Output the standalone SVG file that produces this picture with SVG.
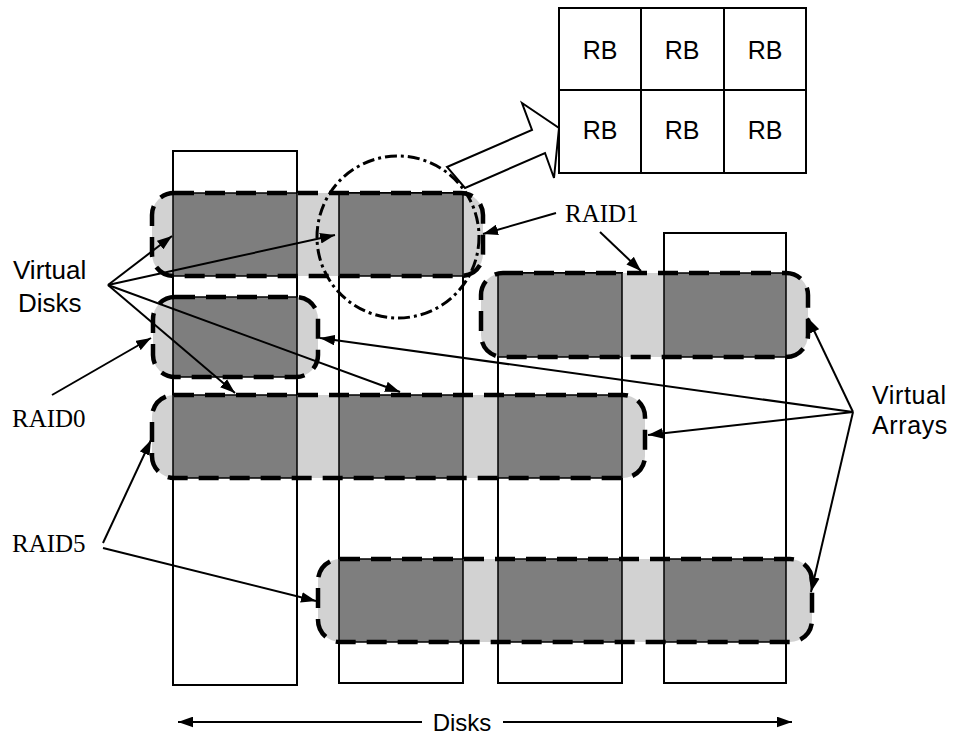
<svg xmlns="http://www.w3.org/2000/svg" width="955" height="735" viewBox="0 0 955 735">
<defs>
<style>
.disk{fill:#fff;stroke:#000;stroke-width:2}
.cap{fill:#d2d2d2}
.capline{fill:none;stroke:#000;stroke-width:4.5;stroke-dasharray:20 11}
.blk{fill:#7e7e7e;stroke:#000;stroke-width:1.5}
.conn{stroke:#000;stroke-width:2;fill:none;marker-end:url(#ah)}
.cell{fill:#fff;stroke:#000;stroke-width:2}
.sans{font-family:"Liberation Sans",Arial,sans-serif;fill:#000}
.serif{font-family:"Liberation Serif","Times New Roman",serif;fill:#000}
</style>
<marker id="ah" viewBox="0 0 14 10" refX="14" refY="5" markerWidth="15" markerHeight="11" markerUnits="userSpaceOnUse" orient="auto"><path d="M0,0 L14,5 L0,10 z" fill="#000"/></marker>
</defs>
<rect width="955" height="735" fill="#fff"/>

<g id="disks">
<rect id="disk1" class="disk" x="173" y="151" width="124" height="534"/>
<rect id="disk2" class="disk" x="339" y="193" width="124" height="490"/>
<rect id="disk3" class="disk" x="498" y="273" width="124" height="410"/>
<rect id="disk4" class="disk" x="664" y="233" width="122" height="450"/>
</g>

<g id="array-raid1">
<rect class="cap" x="152" y="193" width="331" height="83" rx="22"/>
<rect class="blk" x="173" y="193" width="124" height="83"/>
<rect class="blk" x="339" y="193" width="124" height="83"/>
<rect class="capline" x="152" y="193" width="331" height="83" rx="22"/>
</g>
<g id="array-raid0">
<rect class="cap" x="153" y="297" width="165" height="80" rx="22"/>
<rect class="blk" x="173" y="297" width="124" height="80"/>
<rect class="capline" x="153" y="297" width="165" height="80" rx="22"/>
</g>
<g id="array-raid5">
<rect class="cap" x="152" y="395" width="493" height="83" rx="22"/>
<rect class="blk" x="173" y="395" width="124" height="83"/>
<rect class="blk" x="339" y="395" width="124" height="83"/>
<rect class="blk" x="498" y="395" width="124" height="83"/>
<rect class="capline" x="152" y="395" width="493" height="83" rx="22"/>
</g>
<g id="array-right">
<rect class="cap" x="481" y="273" width="327" height="84" rx="22"/>
<rect class="blk" x="498" y="273" width="124" height="84"/>
<rect class="blk" x="664" y="273" width="122" height="84"/>
<rect class="capline" x="481" y="273" width="327" height="84" rx="22"/>
</g>
<g id="array-bottom">
<rect class="cap" x="318" y="559" width="494" height="83" rx="22"/>
<rect class="blk" x="339" y="559" width="124" height="83"/>
<rect class="blk" x="498" y="559" width="124" height="83"/>
<rect class="blk" x="664" y="559" width="122" height="83"/>
<rect class="capline" x="318" y="559" width="494" height="83" rx="22"/>
</g>

<g id="zoom-circle">
<circle cx="398" cy="237" r="81" fill="none" stroke="#000" stroke-width="3" stroke-dasharray="12 4 3 4"/>
</g>

<g id="block-arrow">
<polygon points="447,167 532,130 522,103 559,128 554,178 545,153 465,188" fill="#fff" stroke="#000" stroke-width="2" stroke-linejoin="miter"/>
</g>

<g id="rb-grid">
<rect class="cell" x="559" y="8" width="82" height="82"/>
<rect class="cell" x="641" y="8" width="83" height="82"/>
<rect class="cell" x="724" y="8" width="82" height="82"/>
<rect class="cell" x="559" y="90" width="82" height="83"/>
<rect class="cell" x="641" y="90" width="83" height="83"/>
<rect class="cell" x="724" y="90" width="82" height="83"/>
<g class="sans" font-size="25" text-anchor="middle">
<text x="600" y="59">RB</text>
<text x="682" y="59">RB</text>
<text x="765" y="59">RB</text>
<text x="600" y="139">RB</text>
<text x="682" y="139">RB</text>
<text x="765" y="139">RB</text>
</g>
</g>

<g id="labels">
<text id="lbl-virtual-disks" class="sans" font-size="26"><tspan x="13" y="279">Virtual</tspan><tspan x="18" y="312">Disks</tspan></text>
<text id="lbl-virtual-arrays" class="sans" font-size="25" letter-spacing="0.6"><tspan x="872" y="404">Virtual</tspan><tspan x="872" y="434">Arrays</tspan></text>
<text id="lbl-raid1" class="serif" font-size="25" x="565" y="222">RAID1</text>
<text id="lbl-raid0" class="serif" font-size="25" x="12" y="427">RAID0</text>
<text id="lbl-raid5" class="serif" font-size="25" x="12" y="552">RAID5</text>
<text id="lbl-disks" class="sans" font-size="24" x="462" y="731" text-anchor="middle">Disks</text>
</g>

<g id="connectors">
<path class="conn" d="M108,285 L172,236"/>
<path class="conn" d="M108,285 L335,235"/>
<path class="conn" d="M108,285 L400,392"/>
<path class="conn" d="M108,285 L235,393"/>
<path class="conn" d="M52,395 L151,338"/>
<path class="conn" d="M103,543 L151,440"/>
<path class="conn" d="M103,548 L316,601"/>
<path class="conn" d="M556,213 L483,234"/>
<path class="conn" d="M600,232 L641,271"/>
<path class="conn" d="M853,412 L808,318"/>
<path class="conn" d="M853,412 L320,338"/>
<path class="conn" d="M853,412 L648,435"/>
<path class="conn" d="M853,412 L811,592"/>
<path class="conn" d="M422,722 L178,722"/>
<path class="conn" d="M503,722 L792,722"/>
</g>
</svg>
